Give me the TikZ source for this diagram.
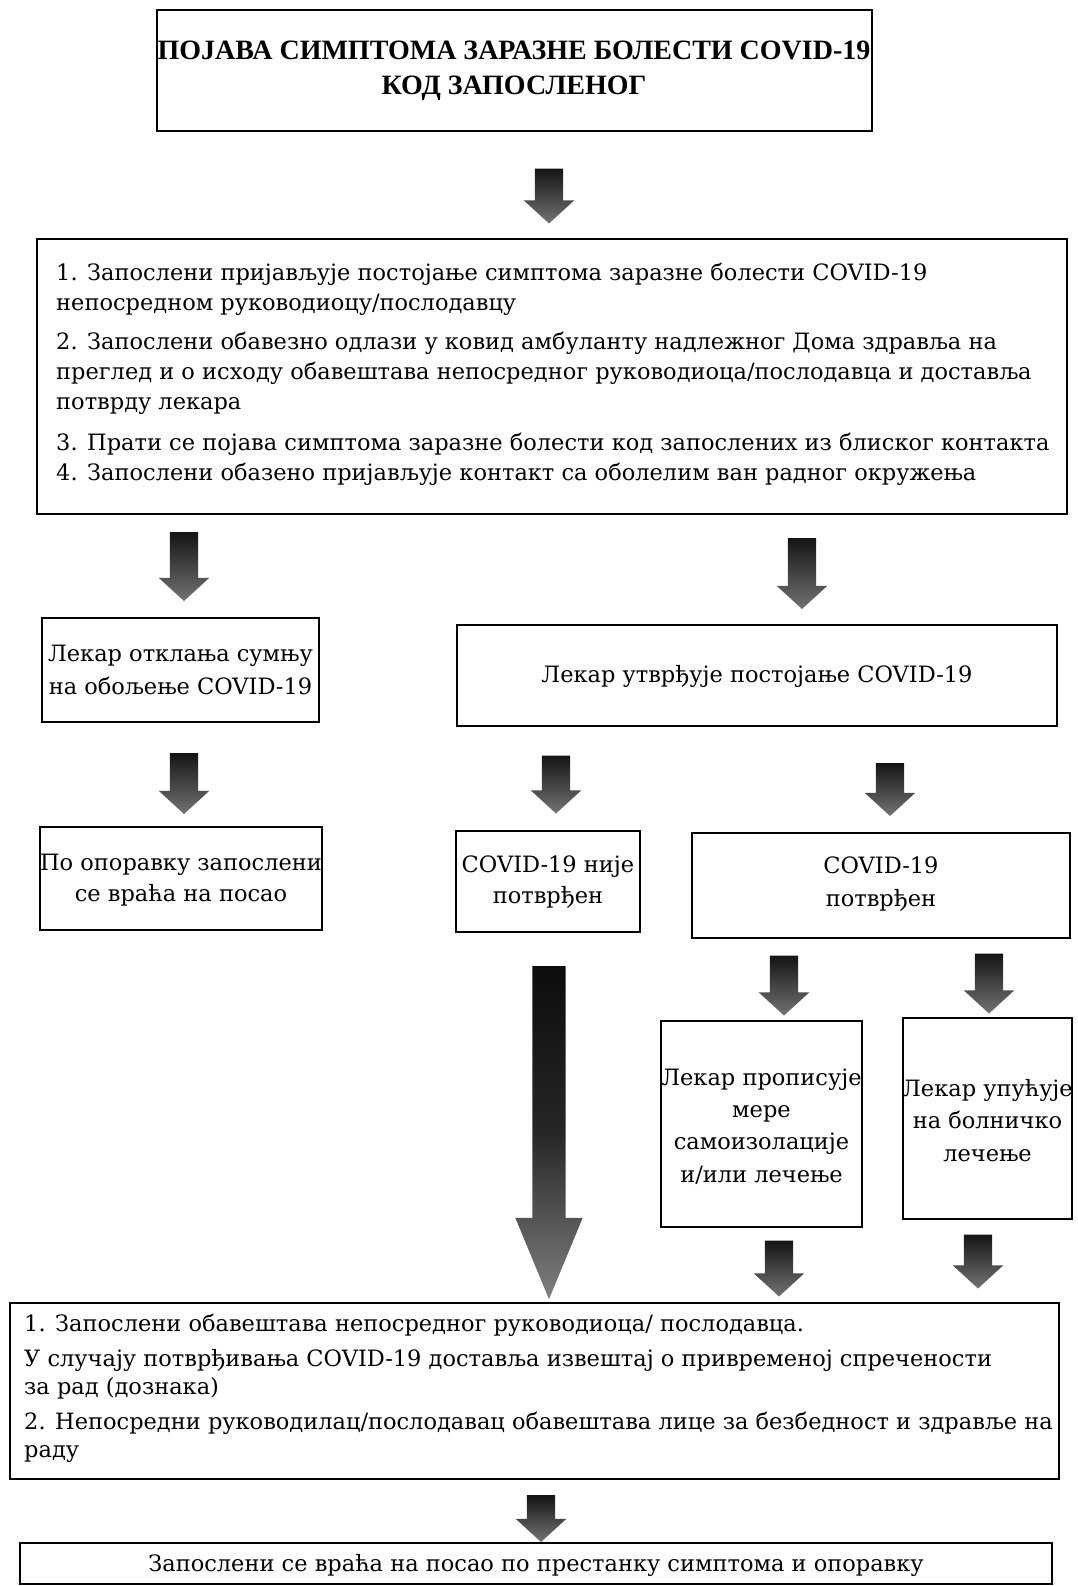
\documentclass[tikz,border=0pt]{standalone}
\usepackage{fontspec}
\setmainfont{DejaVu Serif}
\newfontfamily\ttl{Liberation Serif}
\usetikzlibrary{shapes.arrows,fit}
\begin{document}
\begin{tikzpicture}[x=1pt,y=-1pt,
  box/.style={draw, line width=1.5pt, inner sep=0pt, outer sep=0pt},
  txt/.style={inner sep=0pt, align=center, font=\fontsize{22.5}{32}\selectfont},
  ltxt/.style={inner sep=0pt, align=left, anchor=west},
  barrow/.style={single arrow, rotate=-90, draw=none, top color=black!92, bottom color=black!55,
    inner xsep=0pt, inner ysep=14pt, outer sep=0pt, single arrow head extend=11pt,
    single arrow tip angle=95},
  bigarrow/.style={single arrow, rotate=-90, draw=none, top color=black!95,
    bottom color=black!50, middle color=black!85,
    inner xsep=0pt, inner ysep=16.5pt, outer sep=0pt, single arrow head extend=17pt,
    single arrow tip angle=45}
]
\useasboundingbox (0,0) rectangle (1077,1586);

% boxes
\node[box, fit={(157,10) (872,131)}] (b1) {};
\node[box, fit={(37,239) (1067,514)}] (b2) {};
\node[box, fit={(42,618) (319,722)}] (b3l) {};
\node[box, fit={(457,625) (1057,726)}] (b3r) {};
\node[box, fit={(40,827) (322,930)}] (b4a) {};
\node[box, fit={(456,831) (640,932)}] (b4b) {};
\node[box, fit={(692,833) (1070,938)}] (b4c) {};
\node[box, fit={(661,1021) (862,1227)}] (b5a) {};
\node[box, fit={(903,1018) (1072,1219)}] (b5b) {};
\node[box, fit={(10,1303) (1059,1479)}] (b6) {};
\node[box, fit={(20,1543) (1052,1584)}] (b7) {};

% texts
\node[txt, font=\ttl\bfseries\fontsize{28}{35}\selectfont] (b1t) at (514,70.5)
  {ПОЈАВА СИМПТОМА ЗАРАЗНЕ БОЛЕСТИ COVID-19\\КОД ЗАПОСЛЕНОГ};
\node[ltxt, font=\fontsize{22.5}{30}\selectfont] (b2t) at (56,374)
  {1. Запослени пријављује постојање симптома заразне болести COVID-19\\
   непосредном руководиоцу/послодавцу\\[9pt]
   2. Запослени обавезно одлази у ковид амбуланту надлежног Дома здравља на\\
   преглед и о исходу обавештава непосредног руководиоца/послодавца и доставља\\
   потврду лекара\\[11pt]
   3. Прати се појава симптома заразне болести код запослених из блиског контакта\\
   4. Запослени обазено пријављује контакт са оболелим ван радног окружења};
\node[txt, font=\fontsize{22.5}{33}\selectfont] (b3lt) at (180.5,670)
  {Лекар отклања сумњу\\на обољење COVID-19};
\node[txt] (b3rt) at (757,676) {Лекар утврђује постојање COVID-19};
\node[txt, font=\fontsize{22.5}{31}\selectfont] (b4at) at (181,880.5)
  {По опоравку запослени\\се враћа на посао};
\node[txt, font=\fontsize{22.5}{31}\selectfont] (b4bt) at (548,882.5)
  {COVID-19 није\\потврђен};
\node[txt, font=\fontsize{22.5}{33}\selectfont] (b4ct) at (881,884.5)
  {COVID-19\\потврђен};
\node[txt, font=\fontsize{22.5}{32.4}\selectfont] (b5at) at (761.5,1126.5)
  {Лекар прописује\\мере\\самоизолације\\и/или лечење};
\node[txt, font=\fontsize{22.5}{32.4}\selectfont] (b5bt) at (987.5,1120.5)
  {Лекар упућује\\на болничко\\лечење};
\node[ltxt, font=\fontsize{22.5}{28}\selectfont] (b6t) at (24,1388)
  {1. Запослени обавештава непосредног руководиоца/ послодавца.\\[7pt]
   У случају потврђивања COVID-19 доставља извештај о привременој спречености\\
   за рад (дознака)\\[7pt]
   2. Непосредни руководилац/послодавац обавештава лице за безбедност и здравље на\\
   раду};
\node[txt] (b7t) at (536,1565) {Запослени се враћа на посао по престанку симптома и опоравку};

% block arrows
\node[barrow, minimum height=55pt] (a1) at (549,189.5) {};
\node[barrow, minimum height=69pt] (a2) at (184,560) {};
\node[barrow, minimum height=71pt] (a3) at (802,567) {};
\node[barrow, minimum height=61pt] (a4) at (184,777) {};
\node[barrow, minimum height=58pt] (a5) at (556,778) {};
\node[barrow, minimum height=53pt] (a6) at (890,783) {};
\node[bigarrow, minimum height=333pt] (a7) at (549,1112.5) {};
\node[barrow, minimum height=60pt] (a8) at (784,979) {};
\node[barrow, minimum height=60pt] (a9) at (989,977) {};
\node[barrow, minimum height=56pt] (a10) at (779,1262) {};
\node[barrow, minimum height=54pt] (a11) at (978,1255) {};
\node[barrow, minimum height=47pt] (a12) at (541,1512) {};
\end{tikzpicture}
\end{document}
